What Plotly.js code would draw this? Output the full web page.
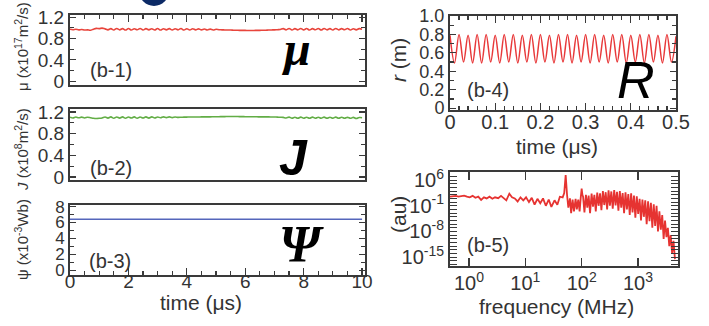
<!DOCTYPE html>
<html>
<head>
<meta charset="utf-8">
<script src="https://cdn.plot.ly/plotly-3.0.1.min.js"></script>
<style>
html,body{margin:0;padding:0;background:#fff;}
#chart{width:709px;height:326px;}
</style>
</head>
<body>
<div id="chart"></div>
<script>
// ---------------- DATA ----------------
// (b-1..b-3) time axis, microseconds
const timeLong = [0,0.1,0.2,0.3,0.4,0.5,0.6,0.7,0.8,0.9,1,1.1,1.2,1.3,1.4,1.5,1.6,1.7,1.8,1.9,
 2,2.1,2.2,2.3,2.4,2.5,2.6,2.7,2.8,2.9,3,3.1,3.2,3.3,3.4,3.5,3.6,3.7,3.8,3.9,
 4,4.1,4.2,4.3,4.4,4.5,4.6,4.7,4.8,4.9,5,5.1,5.2,5.3,5.4,5.5,5.6,5.7,5.8,5.9,
 6,6.1,6.2,6.3,6.4,6.5,6.6,6.7,6.8,6.9,7,7.1,7.2,7.3,7.4,7.5,7.6,7.7,7.8,7.9,
 8,8.1,8.2,8.3,8.4,8.5,8.6,8.7,8.8,8.9,9,9.1,9.2,9.3,9.4,9.5,9.6,9.7,9.8,9.9,10];

// mu (x10^17 m^2/s)
const muValues = [0.975,0.965,0.972,0.962,0.968,0.958,0.962,0.955,
 0.975,0.99,0.985,0.995,0.98,
 0.962,0.985,0.96,0.988,0.962,0.985,0.958,0.986,0.96,0.984,
 0.963,0.988,0.96,0.985,0.962,0.983,0.96,0.986,0.958,0.984,
 0.962,0.985,0.96,0.983,0.962,0.986,0.958,0.982,0.96,0.984,
 0.962,0.98,0.962,0.978,0.96,0.975,0.96,0.972,
 0.965,0.962,0.96,0.958,0.958,0.956,0.955,0.953,0.952,0.952,
 0.95,0.95,0.951,0.952,0.953,0.955,0.956,0.958,0.96,0.962,0.965,0.968,
 0.985,0.962,0.988,0.96,0.985,0.962,0.988,0.962,0.986,0.96,
 0.985,0.963,0.987,0.96,0.986,0.962,0.985,0.96,0.988,0.962,
 0.985,0.963,0.986,0.96,0.984,0.962,0.985,0.975];

// J (x10^8 m^2/s)
const jValues = [1.105,1.09,1.107,1.093,1.105,1.09,1.103,1.095,
 1.085,1.08,1.083,1.09,
 1.107,1.087,1.109,1.085,1.107,1.087,1.11,1.085,1.108,1.088,
 1.109,1.085,1.107,1.09,1.109,1.087,1.11,1.09,1.108,1.093,
 1.11,1.095,1.109,1.095,1.107,1.1,
 1.103,1.105,1.106,1.107,1.107,1.108,1.108,1.109,1.109,1.11,
 1.11,1.111,1.112,1.113,1.114,1.115,1.116,1.117,1.117,1.116,
 1.115,1.114,1.113,1.112,1.112,1.111,1.111,1.11,1.11,1.109,
 1.109,1.108,1.107,1.105,1.103,1.1,
 1.09,1.105,1.085,1.103,1.083,1.105,1.085,1.103,1.083,1.105,
 1.085,1.103,1.085,1.105,1.083,1.103,1.085,1.105,1.083,1.103,
 1.085,1.101,1.083,1.1,1.08,1.097,1.095];

// psi (x10^-3 Wb)
const psiTime = [0,1,2,3,4,5,6,7,8,9,10];
const psiValues = [6.4,6.4,6.4,6.4,6.4,6.4,6.4,6.4,6.4,6.4,6.4];

// (b-4) r (m) vs time (us), peaks and troughs
const rTime = [0,0.01,0.02,0.03,0.04,0.05,0.06,0.07,0.08,0.09,
 0.1,0.11,0.12,0.13,0.14,0.15,0.16,0.17,0.18,0.19,
 0.2,0.21,0.22,0.23,0.24,0.25,0.26,0.27,0.28,0.29,
 0.3,0.31,0.32,0.33,0.34,0.35,0.36,0.37,0.38,0.39,
 0.4,0.41,0.42,0.43,0.44,0.45,0.46,0.47,0.48,0.49,0.5];
const rValues = [0.79,0.49,0.8,0.5,0.79,0.49,0.8,0.49,0.8,0.5,
 0.79,0.49,0.8,0.5,0.8,0.49,0.79,0.5,0.8,0.49,
 0.8,0.5,0.79,0.49,0.8,0.5,0.8,0.49,0.79,0.5,
 0.8,0.49,0.8,0.5,0.79,0.49,0.8,0.5,0.8,0.49,
 0.79,0.5,0.8,0.49,0.8,0.5,0.79,0.49,0.8,0.5,0.78];

// (b-5) spectrum: frequency (MHz) and power (au)
const specFreq = [0.46,0.52,0.58,0.65,0.73,0.82,0.92,1.03,1.16,1.3,
 1.46,1.64,1.84,2.06,2.31,2.6,2.9,3.3,3.7,4.1,
 4.6,5.2,5.8,6.5,7.3,8.2,9.2,10.3,11.6,13,
 14.6,16.4,18.4,20.6,23.1,26,29,33,37,41,
 46,49,52,55,58,62,65,69,73,78,
 82,87,92,96,100,103,
 106,112,119,126,133,141,150,159,168,178,
 189,200,212,224,238,252,267,283,300,317,
 336,356,378,400,424,449,476,504,534,566,
 600,635,673,713,755,800,848,898,951,1008,
 1068,1131,1198,1270,1345,1425,1510,1600,1695,1796,
 1903,2016,2136,2263,2397,2540,2691,2851,3020,3200,
 3390,3592,3805,4032,4271,4525];
const specPower = [3e1,4e1,5e1,3e1,4e1,6e1,3e1,2e1,5e1,1.5e1,
 3e1,4e0,2e1,1e1,3e1,8e0,2e1,1.2e1,5e1,1.5e1,
 3e0,2e2,2e1,1e1,1.5e0,2e1,3e0,2e1,1e0,1.5e1,
 2e-1,8e0,5e-1,1e1,1e-1,5e0,5e-2,3e0,2e-1,3e1,
 2e1,3e2,2.5e7,1e2,3e-2,1e1,1e-3,5e0,3e-3,8e0,
 1e-2,5e0,3e-3,1e1,5e3,1e2,
 3e1,1.6e-3,1e2,3e-2,6e1,1e-3,2e2,6e-2,1e2,3e-3,
 4e2,1e-1,2.5e2,6e-3,1e3,1.6e-1,5e2,1e-2,1.6e3,1e-1,
 8e2,1.6e-2,2e3,1.3e-1,6e2,5e-3,1e3,3e-2,3e2,1e-3,
 5e2,1e-2,1.6e2,3e-4,2.5e2,1.6e-3,6e1,6e-5,4e1,6e-4,
 8e0,1e-5,5e0,1e-4,3e0,1e-6,1.6e0,6e-6,6e-1,1e-7,
 2.5e-1,3e-7,1e-1,1e-8,3e-3,3e-8,3e-4,1e-10,1e-5,3e-10,
 1e-7,1e-12,1e-9,1e-14,3e-11,3e-16];

// tick labels
const b1Ticks = [0,0.4,0.8,1.2];
const b3Ticks = [0,2,4,6,8];
const b4Ticks = [0,0.2,0.4,0.6,0.8,1.0];
const b4TickText = ["0","0.2","0.4","0.6","0.8","1.0"];
const freqTicks = [1,10,100,1000];
const freqTickText = ["10<sup>0</sup>","10<sup>1</sup>","10<sup>2</sup>","10<sup>3</sup>"];
const powerTicks = [1e6,1e-1,1e-8,1e-15];
const powerTickText = ["10<sup>6</sup>","10<sup>-1</sup>","10<sup>-8</sup>","10<sup>-15</sup>"];

// ---------------- LAYOUT HELPERS ----------------
const W = 709, H = 326;
const fx = v => v / W;
const fy = v => 1 - v / H;
const FONT = "Liberation Sans, Arial, sans-serif";
const SERIF = "Liberation Serif, Times New Roman, serif";
const LINE = "#3a3a3a";
const TICKF = {family: FONT, size: 19, color: "#333"};
const TICKF_S = {family: FONT, size: 17, color: "#333"};
const TICKF_R = {family: FONT, size: 20, color: "#333"};
const TICKF_RS = {family: FONT, size: 18, color: "#333"};

function baseAxis(extra) {
  return Object.assign({
    showline: true, linecolor: LINE, linewidth: 2,
    ticks: "inside", tickcolor: LINE, tickwidth: 1.2, ticklen: 7,
    showgrid: false, zeroline: false, fixedrange: true
  }, extra);
}

// minor decade ticks for the spectrum (positions only, no labels)
const decadeVals = [];
for (let e = -17; e <= 8; e++) decadeVals.push(Math.pow(10, e));

const traces = [
  {x: timeLong, y: muValues, xaxis: "x", yaxis: "y", mode: "lines",
   line: {color: "#e8453c", width: 1.6, shape: "spline"}, hoverinfo: "skip"},
  {x: timeLong, y: jValues, xaxis: "x2", yaxis: "y2", mode: "lines",
   line: {color: "#62ad45", width: 1.6, shape: "spline"}, hoverinfo: "skip"},
  {x: psiTime, y: psiValues, xaxis: "x3", yaxis: "y3", mode: "lines",
   line: {color: "#5566bb", width: 1.6}, hoverinfo: "skip"},
  {x: rTime, y: rValues, xaxis: "x4", yaxis: "y4", mode: "lines",
   line: {color: "#e8393a", width: 1.5, shape: "spline", smoothing: 1}, hoverinfo: "skip"},
  {x: specFreq, y: specPower, xaxis: "x5", yaxis: "y5", mode: "lines",
   line: {color: "#e63331", width: 1.8}, hoverinfo: "skip"}
];

const leftX = [fx(70), fx(365)];
const layout = {
  width: W, height: H,
  margin: {l: 0, r: 0, t: 0, b: 0, pad: 0},
  paper_bgcolor: "#ffffff", plot_bgcolor: "#ffffff",
  showlegend: false,
  font: {family: FONT, color: "#222"},

  // (b-1)
  xaxis: baseAxis({domain: leftX, anchor: "y", range: [0, 10.1], side: "top",
    showticklabels: false, mirror: true, dtick: 2, tick0: 0,
    minor: {dtick: 0.5, tick0: 0, ticks: "inside", ticklen: 4, tickcolor: LINE}}),
  yaxis: baseAxis({domain: [fy(85), fy(15)], anchor: "x", range: [-0.07, 1.24],
    tickvals: b1Ticks, tickfont: TICKF, mirror: "allticks", ticklen: 6,
    minor: {tickvals: [0.2, 0.6, 1.0], ticks: "inside", ticklen: 4, tickcolor: LINE}}),

  // (b-2)
  xaxis2: baseAxis({domain: leftX, anchor: "y2", range: [0, 10.1],
    showticklabels: false, mirror: true, ticks: ""}),
  yaxis2: baseAxis({domain: [fy(180), fy(109)], anchor: "x2", range: [-0.055, 1.255],
    tickvals: b1Ticks, tickfont: TICKF, mirror: "allticks", ticklen: 6,
    minor: {tickvals: [0.2, 0.6, 1.0], ticks: "inside", ticklen: 4, tickcolor: LINE}}),

  // (b-3)
  xaxis3: baseAxis({domain: leftX, anchor: "y3", range: [0, 10.1],
    tickfont: TICKF, mirror: true, dtick: 2, tick0: 0, ticklabelstandoff: -12,
    minor: {dtick: 0.5, tick0: 0, ticks: "inside", ticklen: 4, tickcolor: LINE}}),
  yaxis3: baseAxis({domain: [fy(275), fy(205)], anchor: "x3", range: [-0.6, 8.2],
    tickvals: b3Ticks, tickfont: TICKF_S, mirror: "allticks", ticklen: 6,
    minor: {dtick: 1, tick0: 0, ticks: "inside", ticklen: 4, tickcolor: LINE}}),

  // (b-4)
  xaxis4: baseAxis({domain: [fx(450), fx(676)], anchor: "y4", range: [0, 0.5],
    tickfont: TICKF_R, mirror: "allticks", dtick: 0.1, tick0: 0, ticklabelstandoff: -7,
    minor: {dtick: 0.02, tick0: 0, ticks: "inside", ticklen: 4, tickcolor: LINE}}),
  yaxis4: baseAxis({domain: [fy(110), fy(16)], anchor: "x4", range: [-0.02, 1.0],
    tickvals: b4Ticks, ticktext: b4TickText, tickfont: TICKF_RS, mirror: "allticks", ticklen: 6,
    minor: {dtick: 0.1, tick0: 0, ticks: "inside", ticklen: 4, tickcolor: LINE}}),

  // (b-5)
  xaxis5: baseAxis({domain: [fx(450), fx(678)], anchor: "y5", type: "log",
    range: [Math.log10(0.46), 3.71], tickvals: freqTicks, ticktext: freqTickText,
    tickfont: TICKF_R, mirror: "allticks", ticklen: 8, ticklabelstandoff: -2}),
  yaxis5: baseAxis({domain: [fy(266), fy(172)], anchor: "x5", type: "log",
    range: [-17.4, 8.2], tickvals: powerTicks, ticktext: powerTickText,
    tickfont: TICKF_R, mirror: "allticks", ticklen: 7, tickwidth: 1,
    minor: {tickvals: decadeVals, ticks: "inside", ticklen: 7, tickwidth: 1, tickcolor: LINE}}),

  shapes: [
    {type: "circle", xref: "paper", yref: "paper", x0: fx(139), x1: fx(169),
     y0: fy(6), y1: fy(-24), fillcolor: "#0c2a66", line: {width: 0}}
  ],

  annotations: [
    // y-axis titles
    {text: "μ (x10<sup>17</sup>m<sup>2</sup>/s)", x: fx(21), y: fy(47), textangle: -90,
     font: {size: 15, family: FONT, color: "#333"}},
    {text: "<i>J</i> (x10<sup>8</sup>m<sup>2</sup>/s)", x: fx(21), y: fy(150), textangle: -90,
     font: {size: 15, family: FONT, color: "#333"}},
    {text: "ψ (x10<sup>-3</sup>Wb)", x: fx(21), y: fy(240), textangle: -90,
     font: {size: 15, family: FONT, color: "#333"}},
    {text: "<i>r</i> (m)", x: fx(398), y: fy(60), textangle: -90,
     font: {size: 21, family: FONT, color: "#333"}},
    {text: "(au)", x: fx(398), y: fy(215), textangle: -90,
     font: {size: 21, family: FONT, color: "#333"}},
    // x-axis titles
    {text: "time (μs)", x: fx(201), y: fy(302), font: {size: 21, family: FONT, color: "#333"}},
    {text: "time (μs)", x: fx(557), y: fy(146), font: {size: 21, family: FONT, color: "#333"}},
    {text: "frequency (MHz)", x: fx(556), y: fy(306), font: {size: 21, family: FONT, color: "#333"}},
    // panel labels
    {text: "(b-1)", x: fx(88), y: fy(70), xanchor: "left", font: {size: 20, family: FONT, color: "#333"}},
    {text: "(b-2)", x: fx(88), y: fy(168), xanchor: "left", font: {size: 20, family: FONT, color: "#333"}},
    {text: "(b-3)", x: fx(87), y: fy(261), xanchor: "left", font: {size: 20, family: FONT, color: "#333"}},
    {text: "(b-4)", x: fx(465), y: fy(90), xanchor: "left", font: {size: 20, family: FONT, color: "#333"}},
    {text: "(b-5)", x: fx(465), y: fy(245), xanchor: "left", font: {size: 20, family: FONT, color: "#333"}},
    // big symbols
    {text: "<b><i>μ</i></b>", x: fx(296), y: fy(48), font: {size: 48, family: SERIF, color: "#000"}},
    {text: "<b><i>J</i></b>", x: fx(293), y: fy(158), font: {size: 50, family: FONT, color: "#000"}},
    {text: "<b><i>Ψ</i></b>", x: fx(301), y: fy(244), font: {size: 52, family: SERIF, color: "#000"}},
    {text: "<i>R</i>", x: fx(636), y: fy(80), font: {size: 52, family: FONT, color: "#000"}}
  ].map(a => Object.assign({xref: "paper", yref: "paper", showarrow: false,
                             xanchor: "center", yanchor: "middle"}, a))
};

Plotly.newPlot("chart", traces, layout, {displayModeBar: false, staticPlot: true});
</script>
</body>
</html>
